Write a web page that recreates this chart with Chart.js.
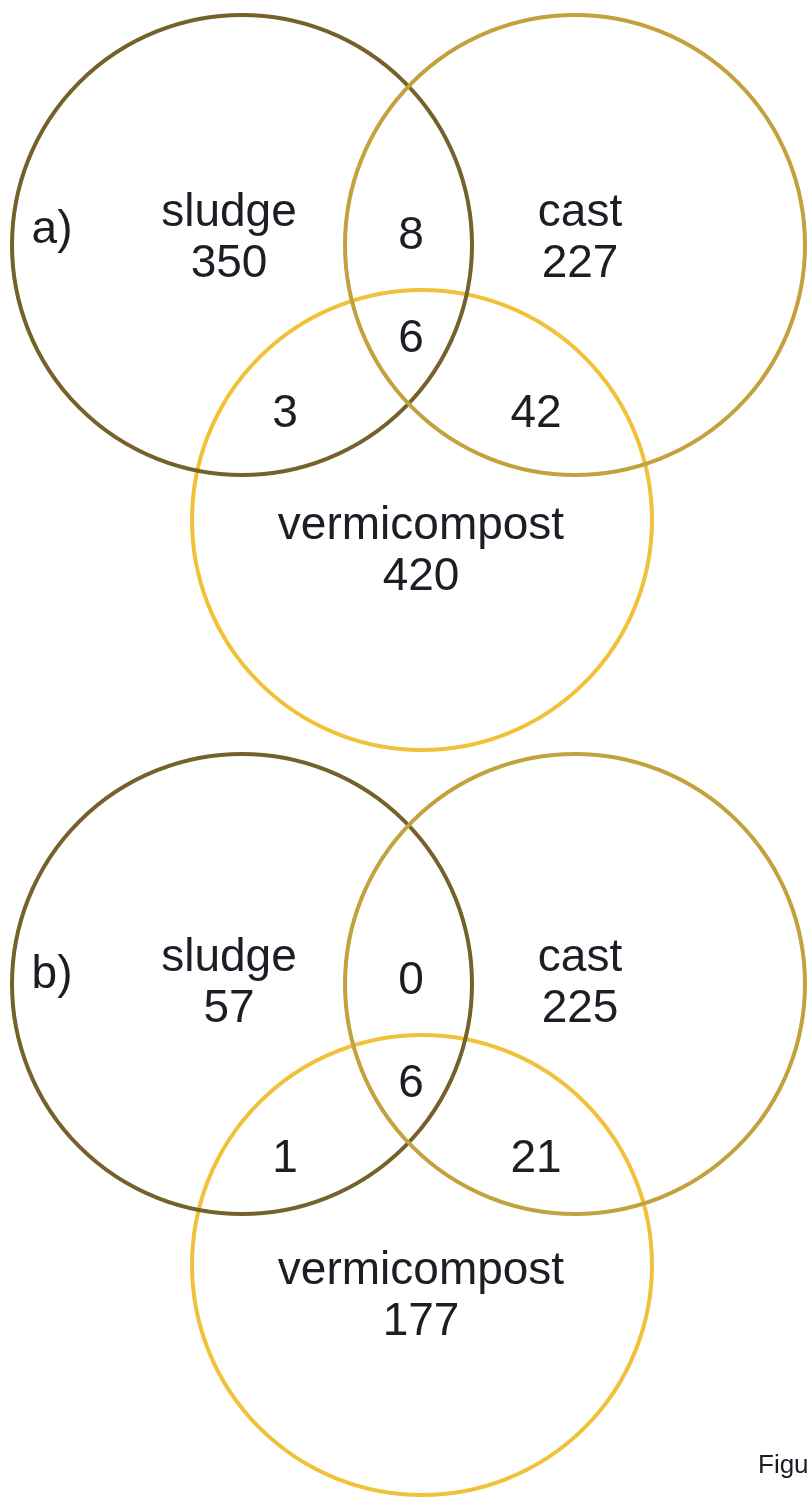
<!DOCTYPE html>
<html>
<head>
<meta charset="utf-8">
<script src="https://cdn.jsdelivr.net/npm/chart.js@4/dist/chart.umd.min.js"></script>
<style>
  html, body { margin: 0; padding: 0; background: #ffffff; }
  #wrap { position: relative; width: 808px; height: 1499px; }
</style>
</head>
<body>
<div id="wrap"><canvas id="c"></canvas></div>
<script>
// ---- data ----
const setNames = ['sludge', 'cast', 'vermicompost'];
const panelLabels = ['a)', 'b)'];
// region order: sludge only, cast only, vermicompost only, sludge∩cast, sludge∩vermicompost, cast∩vermicompost, all three
const regionNames = ['sludge only', 'cast only', 'vermicompost only', 'sludge∩cast', 'sludge∩vermicompost', 'cast∩vermicompost', 'all'];
const countsA = [350, 227, 420, 8, 3, 42, 6];
const countsB = [57, 225, 177, 0, 1, 21, 6];
const footerText = 'Figure';

// ---- layout (positions, separate from data) ----
const circleCentersA = [[242, 245], [575, 245], [422, 520]];
const circleCentersB = [[242, 984], [575, 984], [422, 1265]];
const textOffsetY = [0, 745];
const circleRadius = 230;
const circleColors = ['#75622b', '#c3a13d', '#f1c139'];
const drawOrder = [1, 0, 2];
const nameOffsets = [[229, 213], [580, 213], [421, 526]];
const regionPos = [[229, 264], [580, 264], [421, 577], [411, 236], [285, 414], [536, 414], [411, 339]];
const panelLabelPos = [52, 230];

const panels = [countsA, countsB];
const panelCenters = [circleCentersA, circleCentersB];

const circleDatasets = [];
drawOrder.forEach(i => {
  circleDatasets.push({
    label: setNames[i],
    data: panelCenters.map(cc => ({ x: cc[i][0], y: cc[i][1] })),
    pointRadius: circleRadius,
    pointHoverRadius: circleRadius,
    pointStyle: 'circle',
    borderColor: circleColors[i],
    backgroundColor: 'rgba(0,0,0,0)',
    borderWidth: 4,
    pointBorderWidth: 4,
    showLine: false,
    clip: false
  });
});

const textPlugin = {
  id: 'vennText',
  afterDatasetsDraw(chart) {
    const ctx = chart.ctx;
    const xs = chart.scales.x, ys = chart.scales.y;
    ctx.save();
    ctx.fillStyle = '#1d1d26';
    ctx.textAlign = 'center';
    ctx.textBaseline = 'middle';
    ctx.font = '46px "Liberation Sans", Arial, sans-serif';
    panels.forEach((counts, p) => {
      const oy = textOffsetY[p];
      ctx.fillText(panelLabels[p], xs.getPixelForValue(panelLabelPos[0]), ys.getPixelForValue(panelLabelPos[1] + oy));
      setNames.forEach((n, i) => {
        ctx.fillText(n, xs.getPixelForValue(nameOffsets[i][0]), ys.getPixelForValue(nameOffsets[i][1] + oy));
      });
      counts.forEach((v, r) => {
        ctx.fillText(String(v), xs.getPixelForValue(regionPos[r][0]), ys.getPixelForValue(regionPos[r][1] + oy));
      });
    });
    ctx.font = '26px "Liberation Sans", Arial, sans-serif';
    ctx.textAlign = 'left';
    ctx.fillText(footerText, xs.getPixelForValue(758), ys.getPixelForValue(1466));
    ctx.restore();
  }
};

new Chart(document.getElementById('c'), {
  type: 'scatter',
  data: { datasets: circleDatasets },
  options: {
    responsive: true,
    maintainAspectRatio: false,
    animation: false,
    layout: { padding: 0, autoPadding: false },
    events: [],
    plugins: { legend: { display: false }, tooltip: { enabled: false } },
    scales: {
      x: { type: 'linear', min: 0, max: 808, display: false },
      y: { type: 'linear', min: 0, max: 1499, reverse: true, display: false }
    }
  },
  plugins: [textPlugin]
});
</script>
</body>
</html>
